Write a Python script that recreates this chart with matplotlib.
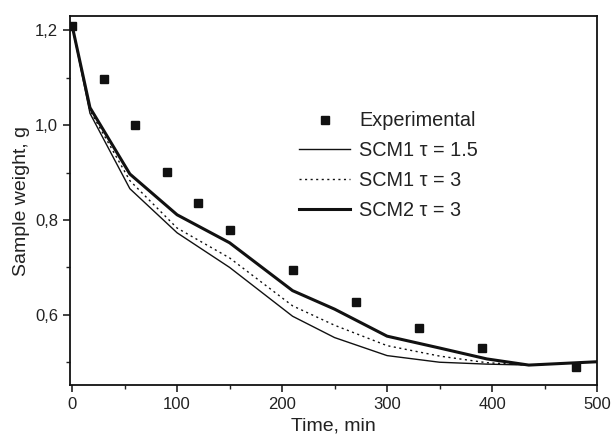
import numpy as np
import matplotlib.pyplot as plt
from matplotlib.ticker import MultipleLocator

# Experimental points
t_exp = [0, 30, 60, 90, 120, 150, 210, 270, 330, 390, 480]
w_exp = [1.21, 1.097, 1.0, 0.902, 0.835, 0.778, 0.695, 0.628, 0.573, 0.530, 0.490]

# Model curves
t_mod = [0, 17, 55, 100, 150, 210, 250, 300, 350, 395, 435, 500]
scm1_15 = [1.21, 1.025, 0.866, 0.773, 0.700, 0.597, 0.552, 0.514, 0.500, 0.496, 0.494, 0.501]
scm1_3 = [1.21, 1.031, 0.883, 0.783, 0.720, 0.619, 0.578, 0.535, 0.513, 0.499, 0.494, 0.501]
scm2_3 = [1.21, 1.037, 0.897, 0.811, 0.752, 0.651, 0.612, 0.555, 0.530, 0.507, 0.494, 0.501]

yticks = [0.6, 0.8, 1.0, 1.2]
ylabels = ['0,6', '0,8', '1,0', '1,2']

plt.rcParams['font.family'] = ['Liberation Sans', 'DejaVu Sans']

fig = plt.figure(figsize=(6.11, 4.36), dpi=100)
ax = fig.add_axes([0.1146, 0.117, 0.8625, 0.846])

ax.plot(t_exp, w_exp, 's', color='#111111', markersize=5.5, label='Experimental')
ax.plot(t_mod, scm1_15, '-', color='#111111', lw=1.0, label='SCM1 τ = 1.5')
ax.plot(t_mod, scm1_3, color='#111111', lw=1.0, ls=(0, (1.5, 2.5)), label='SCM1 τ = 3')
ax.plot(t_mod, scm2_3, '-', color='#111111', lw=2.2, label='SCM2 τ = 3')

ax.set_xlim(-2, 500)
ax.set_ylim(0.452, 1.23)
ax.set_xticks([0, 100, 200, 300, 400, 500])
ax.xaxis.set_minor_locator(MultipleLocator(50))
ax.set_yticks(yticks)
ax.set_yticklabels(ylabels)
ax.yaxis.set_minor_locator(MultipleLocator(0.1))
ax.tick_params(which='both', direction='out', top=False, right=False,
               labelsize=12, colors='#222222')
ax.tick_params(which='major', length=5, width=1.2)
ax.tick_params(which='minor', length=3, width=1.0)
for s in ax.spines.values():
    s.set_linewidth(1.3)
    s.set_color('#111111')

ax.set_xlabel('Time, min', fontsize=14, color='#222222')
ax.set_ylabel('Sample weight, g', fontsize=14, color='#222222')

leg = ax.legend(loc='upper left', bbox_to_anchor=(0.40, 0.79), frameon=False,
                fontsize=14.3, handlelength=2.6, handletextpad=0.45,
                labelspacing=0.55, markerfirst=True)
for txt in leg.get_texts():
    txt.set_color('#222222')

fig.savefig('out.png', dpi=100)
